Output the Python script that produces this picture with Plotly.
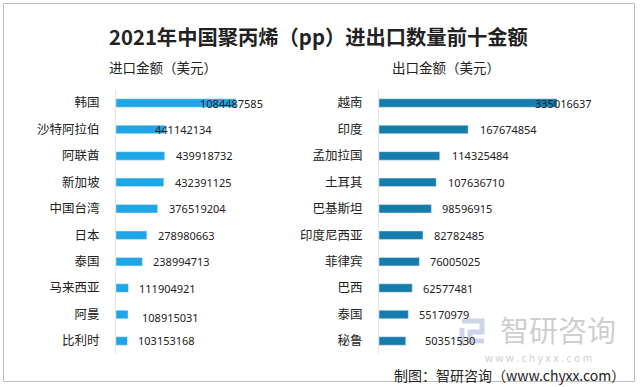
import plotly.graph_objects as go

# ---- data ----
import_countries = ["韩国", "沙特阿拉伯", "阿联酋", "新加坡", "中国台湾", "日本", "泰国", "马来西亚", "阿曼", "比利时"]
import_values = [1084487585, 441142134, 439918732, 432391125, 376519204, 278980663, 238994713, 111904921, 108915031, 103153168]
export_countries = ["越南", "印度", "孟加拉国", "土耳其", "巴基斯坦", "印度尼西亚", "菲律宾", "巴西", "泰国", "秘鲁"]
export_values = [335016637, 167674854, 114325484, 107636710, 98596915, 82782485, 76005025, 62577481, 55170979, 50351530]

W, H = 640, 387
CJK = "Noto Sans CJK SC"
NUM = "Noto Sans"

# label nudges (px) reproducing the original label placement
imp_shift = [-38, -12, 9, 9, 9, 9, 9, 9, 12, 9]
imp_yshift = [0, 0, 0, 0, 0, 0, 0, 0, -3, 0]
exp_shift = [-24, 10, 10, 10, 9, 9, 9, 9, 9, 17]

fig = go.Figure()
fig.add_trace(go.Bar(
    y=import_countries, x=import_values, orientation="h",
    marker=dict(color="#1ea6e6"), width=0.32,
    xaxis="x", yaxis="y", hoverinfo="x+y", showlegend=False))
fig.add_trace(go.Bar(
    y=export_countries, x=export_values, orientation="h",
    marker=dict(color="#167cab"), width=0.32,
    xaxis="x2", yaxis="y2", hoverinfo="x+y", showlegend=False))

ann = []
for i, (c, v) in enumerate(zip(import_countries, import_values)):
    ann.append(dict(x=v, y=c, xref="x", yref="y", text=str(v), showarrow=False,
                    xanchor="left", yanchor="middle", xshift=imp_shift[i], yshift=imp_yshift[i],
                    font=dict(family=NUM, size=11, color="#222")))
for i, (c, v) in enumerate(zip(export_countries, export_values)):
    ann.append(dict(x=v, y=c, xref="x2", yref="y2", text=str(v), showarrow=False,
                    xanchor="left", yanchor="middle", xshift=exp_shift[i],
                    font=dict(family=NUM, size=11, color="#222")))

def px(xp):
    return xp / W

def py(yp):
    return 1 - yp / H

def pann(x, y, text, size, color, xanchor="center", family=CJK):
    return dict(x=px(x), y=py(y), xref="paper", yref="paper", showarrow=False,
                xanchor=xanchor, yanchor="middle", text=text,
                font=dict(family=family, size=size, color=color))

ann += [
    pann(318, 36, "<b>2021年中国聚丙烯（pp）进出口数量前十金额</b>", 20.3, "#222"),
    pann(107, 67, "进口金额（美元）", 13.5, "#222", "left"),
    pann(390, 67, "出口金额（美元）", 13.5, "#222", "left"),
    pann(558, 329, "智研咨询", 29, "#cfcfcf"),
    pann(538, 358, "w w w . c h y x x . c o m", 10, "#cfcfcf", family=NUM),
    pann(627, 375, "制图：智研咨询（www.chyxx.com）", 14, "#222", "right"),
]

shapes = [
    dict(type="rect", xref="paper", yref="paper", x0=px(3.5), x1=px(634.5), y0=py(381.5), y1=py(3.5),
         line=dict(color="#bdbdbd", width=1), fillcolor="rgba(0,0,0,0)", layer="below"),
    # watermark logo
    dict(type="path", xref="paper", yref="paper",
         path=f"M {px(462)} {py(321)} L {px(482)} {py(321)} L {px(482)} {py(332)} L {px(470)} {py(332)} L {px(470)} {py(341)} L {px(484)} {py(341)}",
         line=dict(color="#cbd6e8", width=5)),
    dict(type="line", xref="paper", yref="paper", x0=px(462), x1=px(462), y0=py(328), y1=py(346),
         line=dict(color="#cbd6e8", width=5)),
]

y_top, y_bot = py(89.8), py(354.2)
fig.update_layout(
    width=W, height=H, margin=dict(l=0, r=0, t=0, b=0),
    paper_bgcolor="white", plot_bgcolor="rgba(0,0,0,0)",
    xaxis=dict(domain=[px(116), px(300)], range=[0, 1663e6], visible=False, fixedrange=True),
    yaxis=dict(domain=[y_bot, y_top], autorange="reversed", type="category", automargin=False,
               showline=True, linecolor="#e4e4e4", linewidth=1, ticks="", showgrid=False,
               ticklabelstandoff=13,
               tickfont=dict(family=CJK, size=12.5, color="#222"), anchor="x"),
    xaxis2=dict(domain=[px(379), px(620)], range=[0, 453.6e6], visible=False, fixedrange=True, anchor="y2"),
    yaxis2=dict(domain=[y_bot, y_top], autorange="reversed", type="category", automargin=False,
                showline=True, linecolor="#e4e4e4", linewidth=1, ticks="", showgrid=False,
                ticklabelstandoff=13,
                tickfont=dict(family=CJK, size=12.5, color="#222"), anchor="x2"),
    annotations=ann, shapes=shapes,
)

fig.write_html("out.html", config={"displayModeBar": False},
               post_script="document.body.style.margin='0';")
